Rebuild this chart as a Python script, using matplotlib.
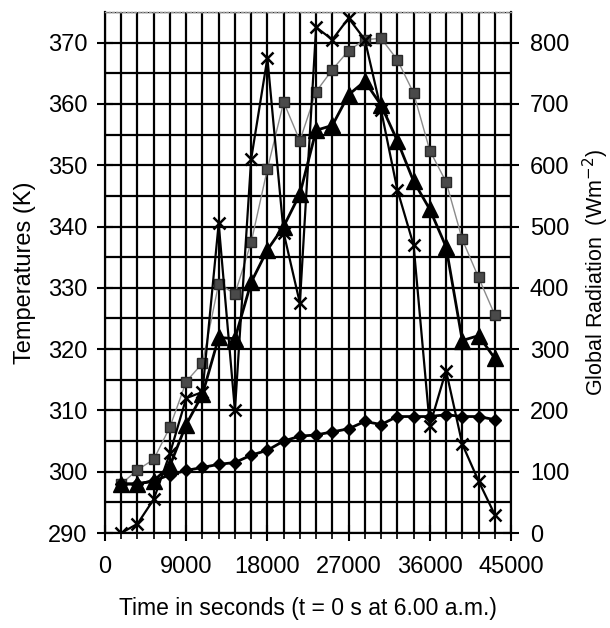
import numpy as np
import matplotlib
matplotlib.use("Agg")
import matplotlib.pyplot as plt
from matplotlib.ticker import MultipleLocator

plt.rcParams['font.family'] = ['Liberation Sans', 'DejaVu Sans']

# time in seconds (t = 0 s at 6.00 a.m.)
time_s = [1800, 3600, 5400, 7200, 9000, 10800, 12600, 14400, 16200, 18000,
          19800, 21600, 23400, 25200, 27000, 28800, 30600, 32400, 34200,
          36000, 37800, 39600, 41400, 43200]

# temperature series (K)
temp_squares = [298.0, 300.3, 302.0, 307.3, 314.7, 317.7, 330.7, 329.0, 337.4, 349.4,
                360.3, 354.0, 362.0, 365.6, 368.7, 370.5, 370.7, 367.2, 361.8,
                352.4, 347.3, 337.9, 331.7, 325.6]
temp_triangles = [298.0, 298.0, 298.5, 301.0, 307.7, 312.6, 321.9, 321.7, 330.9, 336.2,
                  340.0, 345.3, 355.7, 356.5, 361.5, 363.7, 359.8, 354.0, 347.4,
                  342.8, 336.7, 321.4, 322.2, 318.5]
temp_ambient = [298.0, 298.0, 298.5, 299.5, 300.2, 300.7, 301.2, 301.5, 302.7, 303.5,
                305.0, 305.8, 306.0, 306.5, 307.0, 308.2, 307.7, 309.0, 309.0,
                309.0, 309.3, 309.0, 309.0, 308.5]

# global radiation (W m-2)
radiation = [0, 15, 55, 130, 220, 230, 505, 200, 610, 775,
             490, 375, 825, 805, 840, 805, 690, 560, 470,
             175, 265, 145, 85, 30]

x_ticks = [0, 9000, 18000, 27000, 36000, 45000]
y_ticks = [290, 300, 310, 320, 330, 340, 350, 360, 370]
y2_ticks = [0, 100, 200, 300, 400, 500, 600, 700, 800]

fig = plt.figure(figsize=(6.1, 6.28), dpi=100)
ax = fig.add_axes([105/610, 1-533/628, (511-105)/610, (533-12)/628])

ax.set_xlim(0, 45000)
ax.set_ylim(290, 375)
ax.set_xticks(x_ticks)
ax.xaxis.set_minor_locator(MultipleLocator(1800))
ax.set_yticks(y_ticks)
ax.yaxis.set_minor_locator(MultipleLocator(5))
ax.grid(True, which='both', color='black', linewidth=1.6, zorder=0)
ax.set_axisbelow(True)

ax.plot(time_s, temp_squares, color='#8a8a8a', linewidth=1.0, marker='s',
        markersize=7, markerfacecolor='#4a4a4a', markeredgecolor='#2a2a2a', zorder=3)
ax.plot(time_s, temp_triangles, color='black', linewidth=2.0, marker='^',
        markersize=12, markerfacecolor='black', zorder=4)
ax.plot(time_s, temp_ambient, color='black', linewidth=2.0, marker='D',
        markersize=6, markerfacecolor='black', zorder=4)

ax2 = ax.twinx()
ax2.set_ylim(0, 850)
ax2.set_yticks(y2_ticks)
ax2.plot(time_s, radiation, color='black', linewidth=1.6, marker='x',
         markersize=9, markeredgewidth=1.8, zorder=5)

for a in (ax, ax2):
    a.spines['top'].set_color('#999999')
    a.spines['top'].set_linestyle(':')
    a.spines['top'].set_linewidth(1.0)
    for s in ('left', 'right', 'bottom'):
        a.spines[s].set_linewidth(1.5)

ax.tick_params(axis='y', which='major', direction='inout', length=11, width=1.5,
               labelsize=17, pad=7)
ax.tick_params(axis='y', which='minor', length=0)
ax.tick_params(axis='x', which='major', direction='inout', length=11, width=1.5,
               labelsize=17, pad=11)
ax.tick_params(axis='x', which='minor', direction='out', length=4, width=1.2)
ax2.tick_params(axis='y', which='major', direction='inout', length=11, width=1.5,
                labelsize=17, pad=8)

ax.set_xlabel('Time in seconds (t = 0 s at 6.00 a.m.)', fontsize=16.5, labelpad=14)
ax.set_ylabel('Temperatures (K)', fontsize=17, labelpad=9)
ax2.set_ylabel('Global Radiation  (Wm$^{-2}$)', fontsize=15.5, labelpad=8)

fig.savefig('out.png', dpi=100)
